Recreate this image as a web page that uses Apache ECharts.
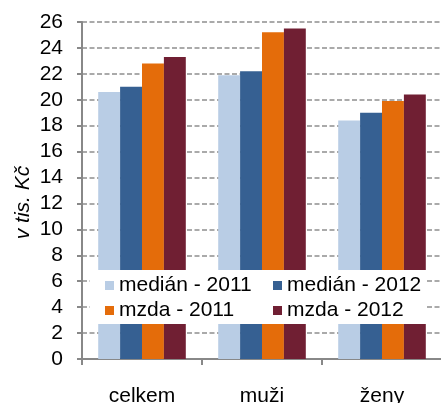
<!DOCTYPE html>
<html>
<head>
<meta charset="utf-8">
<script src="https://cdn.jsdelivr.net/npm/echarts@6/dist/echarts.min.js"></script>
<style>
html,body{margin:0;padding:0;background:#fff;}
#c{width:441px;height:403px;}
</style>
</head>
<body>
<div id="c"></div>
<script>
var categories = ["celkem", "muži", "ženy"];
var seriesNames = ["medián - 2011", "medián - 2012", "mzda - 2011", "mzda - 2012"];
var median2011 = [20.6, 21.9, 18.4];
var median2012 = [21.0, 22.2, 19.0];
var mzda2011 = [22.8, 25.2, 19.9];
var mzda2012 = [23.3, 25.5, 20.4];
var yTicks = [0, 2, 4, 6, 8, 10, 12, 14, 16, 18, 20, 22, 24, 26];
var yAxisTitle = "v tis. Kč";

var colors = ["#b9cde5", "#366092", "#e46c0a", "#701f33"];
var values = [median2011, median2012, mzda2011, mzda2012];
var font = "Liberation Sans, Arial, sans-serif";

var chart = echarts.init(document.getElementById('c'), null, {renderer: 'canvas'});
var series = seriesNames.map(function (n, i) {
  return {
    name: n, type: 'bar', data: values[i],
    itemStyle: {color: colors[i]},
    barGap: '0%', barCategoryGap: '27%'
  };
});
var legendCommon = {
  orient: 'vertical', icon: 'rect', itemWidth: 9, itemHeight: 9,
  itemGap: 4, padding: 0, top: 275, z: 10,
  textStyle: {fontFamily: font, fontSize: 21, color: '#000'}
};
chart.setOption({
  animation: false,
  backgroundColor: '#fff',
  grid: {left: 82, right: -1, top: 22, bottom: 44, containLabel: false, outerBoundsMode: 'none'},
  xAxis: {
    type: 'category', data: categories,
    axisLine: {lineStyle: {color: '#888', width: 2}},
    axisTick: {show: true, length: 6, lineStyle: {color: '#888', width: 2}},
    axisLabel: {fontFamily: font, fontSize: 21, color: '#000', margin: 27}
  },
  yAxis: {
    type: 'value', min: yTicks[0], max: yTicks[yTicks.length - 1], interval: 2,
    name: yAxisTitle, nameLocation: 'middle', nameGap: 48, nameRotate: 90,
    nameMoveOverlap: false,
    nameTextStyle: {fontFamily: font, fontSize: 21, fontStyle: 'italic', color: '#000', padding: [0, 24, 0, 0]},
    axisLine: {show: true, lineStyle: {color: '#888', width: 2}},
    axisTick: {show: true, length: 5, lineStyle: {color: '#888', width: 2}},
    axisLabel: {fontFamily: font, fontSize: 21, color: '#000', margin: 19},
    splitLine: {show: true, lineStyle: {color: '#8f8f8f', width: 1.5, type: [5, 2.5]}}
  },
  graphic: [{
    type: 'rect', z: 3,
    shape: {x: 90, y: 270, width: 337, height: 54},
    style: {fill: '#fff'}
  }],
  legend: [
    Object.assign({}, legendCommon, {left: 105, data: [seriesNames[0], seriesNames[2]]}),
    Object.assign({}, legendCommon, {left: 273, data: [seriesNames[1], seriesNames[3]]})
  ],
  series: series
});
</script>
</body>
</html>
